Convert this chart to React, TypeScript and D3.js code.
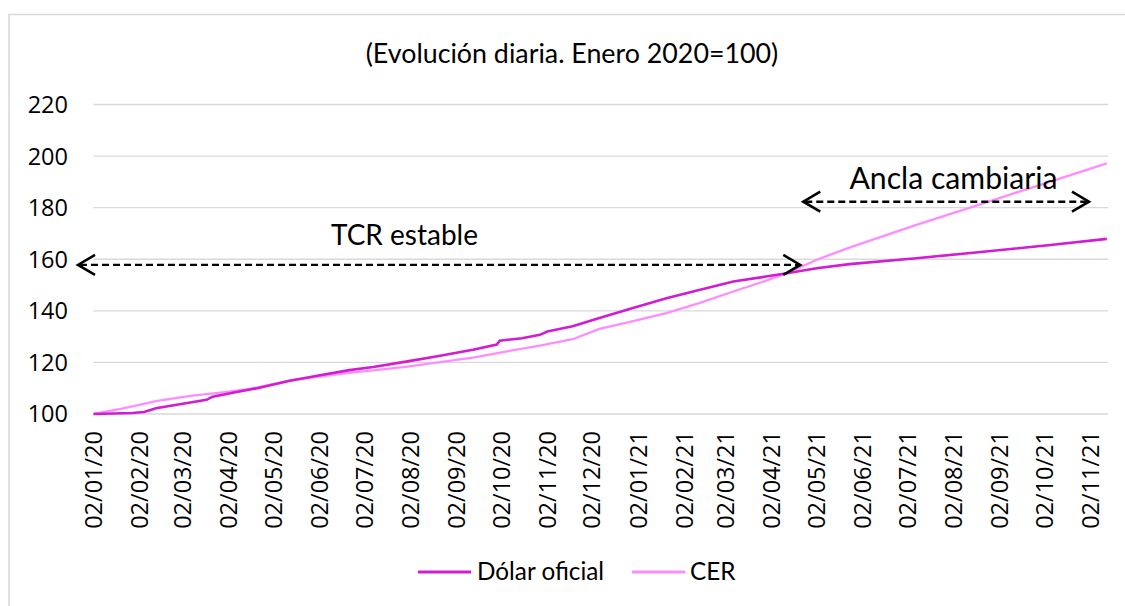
import React from "react";
import * as d3 from "d3";

const dolarDates = [
  "2020-01-02","2020-01-28","2020-02-05","2020-02-13","2020-03-02","2020-03-18","2020-03-22","2020-04-09","2020-04-21","2020-05-13","2020-06-04","2020-06-22","2020-07-08","2020-07-31","2020-08-22","2020-09-13","2020-09-29","2020-10-01","2020-10-16","2020-10-28","2020-11-02","2020-11-19","2020-12-07","2020-12-29","2021-01-21","2021-02-12","2021-03-07","2021-03-29","2021-04-12","2021-05-02","2021-05-24","2021-07-08","2021-08-22","2021-10-06","2021-11-13",
];
const dolarValues = [
  100, 100.4, 100.8, 102.2, 104, 105.5, 106.7, 108.7, 110, 112.9, 115.2, 117.0, 118.2, 120.4, 122.6, 124.9, 126.9, 128.4, 129.4, 130.7, 132.0, 134.0, 137.2, 141.0, 144.9, 148.1, 151.4, 153.3, 154.6, 156.5, 158.1, 160.4, 162.9, 165.5, 167.9,
];
const cerDates = [
  "2020-01-02","2020-01-22","2020-02-13","2020-03-07","2020-03-29","2020-04-16","2020-05-13","2020-06-16","2020-07-08","2020-07-31","2020-08-22","2020-09-13","2020-10-06","2020-10-28","2020-11-19","2020-12-07","2020-12-29","2021-01-21","2021-02-12","2021-03-07","2021-03-29","2021-04-12","2021-05-02","2021-05-24","2021-07-08","2021-08-22","2021-10-06","2021-11-13",
];
const cerValues = [
  100, 102.2, 105, 107, 108.4, 109.7, 113, 115.6, 116.9, 118.4, 120.1, 121.9, 124.3, 126.5, 129, 133, 135.9, 139.1, 143, 147.5, 151.7, 154.6, 159.8, 164.5, 173.3, 181.7, 190.1, 197.2,
];
const yTicks = [100, 120, 140, 160, 180, 200, 220];
const title = "(Evolución diaria. Enero 2020=100)";
const seriesNames = ["Dólar oficial", "CER"];
const annotations = [
  { label: "TCR estable", from: "2020-01-02", to: "2021-04-21", value: 157.8 },
  { label: "Ancla cambiaria", from: "2021-04-23", to: "2021-11-01", value: 182.3 },
];

const parse = d3.timeParse("%Y-%m-%d");
const fmt = d3.timeFormat("%d/%m/%y");

const W = 1125;
const H = 606;
const DARK = "#d21cd2";
const LIGHT = "#ff8cff";
const LABEL_FONT = "Lato, 'Noto Sans', sans-serif";
const TICK_FONT = "'Open Sans', 'Noto Sans', sans-serif";

function Arrow({ x1, x2, y }: { x1: number; x2: number; y: number }) {
  const hl = 17;
  const hh = 10;
  return (
    <g stroke="#000" fill="none">
      <line x1={x1 + 2} x2={x2 - 2} y1={y} y2={y} strokeWidth={2.3} strokeDasharray="7,4" />
      <polyline points={`${x1 + hl},${y - hh} ${x1},${y} ${x1 + hl},${y + hh}`} strokeWidth={2.6} />
      <polyline points={`${x2 - hl},${y - hh} ${x2},${y} ${x2 - hl},${y + hh}`} strokeWidth={2.6} />
    </g>
  );
}

export default function App() {
  const x = d3
    .scaleTime()
    .domain([new Date(2020, 0, 2), new Date(2021, 10, 14)])
    .range([93.5, 1108.3]);
  const y = d3.scaleLinear().domain([100, 220]).range([414, 104.5]);

  const dolar = dolarDates.map((d, i) => ({ date: parse(d) as Date, value: dolarValues[i] }));
  const cer = cerDates.map((d, i) => ({ date: parse(d) as Date, value: cerValues[i] }));

  const line = d3
    .line<{ date: Date; value: number }>()
    .x((d) => x(d.date))
    .y((d) => y(d.value));

  const xTicks = d3.timeMonth
    .range(new Date(2020, 0, 1), new Date(2021, 11, 1))
    .map((m) => new Date(m.getFullYear(), m.getMonth(), 2));

  const [x0, x1] = x.range();

  return (
    <svg
      width={W}
      height={H}
      style={{ position: "absolute", left: 0, top: 0, background: "#fff" }}
    >
      <rect x={9} y={14.5} width={1300} height={700} fill="#fff" stroke="#d9d9d9" strokeWidth={1.5} />
      <text x={572} y={63} textAnchor="middle" fontFamily={LABEL_FONT} fontSize={26.8} fill="#000">
        {title}
      </text>
      {yTicks.map((t) => (
        <g key={t}>
          <line x1={x0} x2={x1} y1={y(t)} y2={y(t)} stroke="#d9d9d9" strokeWidth={1.4} />
          <text
            x={68}
            y={y(t)}
            dy="0.36em"
            textAnchor="end"
            fontFamily={TICK_FONT}
            fontSize={23.5}
            fill="#000"
          >
            {t}
          </text>
        </g>
      ))}
      {xTicks.map((t) => (
        <text
          key={+t}
          transform={`translate(${x(t)},431) rotate(-90)`}
          dy="0.36em"
          textAnchor="end"
          fontFamily={TICK_FONT}
          fontSize={23.5}
          fill="#000"
        >
          {fmt(t)}
        </text>
      ))}
      <path d={line(cer) || ""} fill="none" stroke={LIGHT} strokeWidth={2.3} />
      <path d={line(dolar) || ""} fill="none" stroke={DARK} strokeWidth={2.6} />

      {annotations.map((a, i) => {
        const ax1 = i === 0 ? 78 : x(parse(a.from) as Date);
        const ax2 = x(parse(a.to) as Date);
        const ay = y(a.value);
        return (
          <g key={a.label}>
            <Arrow x1={ax1} x2={ax2} y={ay} />
            <text
              x={i === 0 ? 404.5 : 953.5}
              y={i === 0 ? 245 : 189}
              textAnchor="middle"
              fontFamily={LABEL_FONT}
              fontSize={i === 0 ? 28 : 30.2}
              fill="#000"
            >
              {a.label}
            </text>
          </g>
        );
      })}

      <g>
        <line x1={418} x2={471} y1={572} y2={572} stroke={DARK} strokeWidth={2.8} />
        <text x={477} y={580} fontFamily={LABEL_FONT} fontSize={24.3} fill="#000">
          {seriesNames[0]}
        </text>
        <line x1={632} x2={685} y1={572} y2={572} stroke={LIGHT} strokeWidth={2.8} />
        <text x={690} y={580} fontFamily={LABEL_FONT} fontSize={24.3} fill="#000">
          {seriesNames[1]}
        </text>
      </g>
    </svg>
  );
}
